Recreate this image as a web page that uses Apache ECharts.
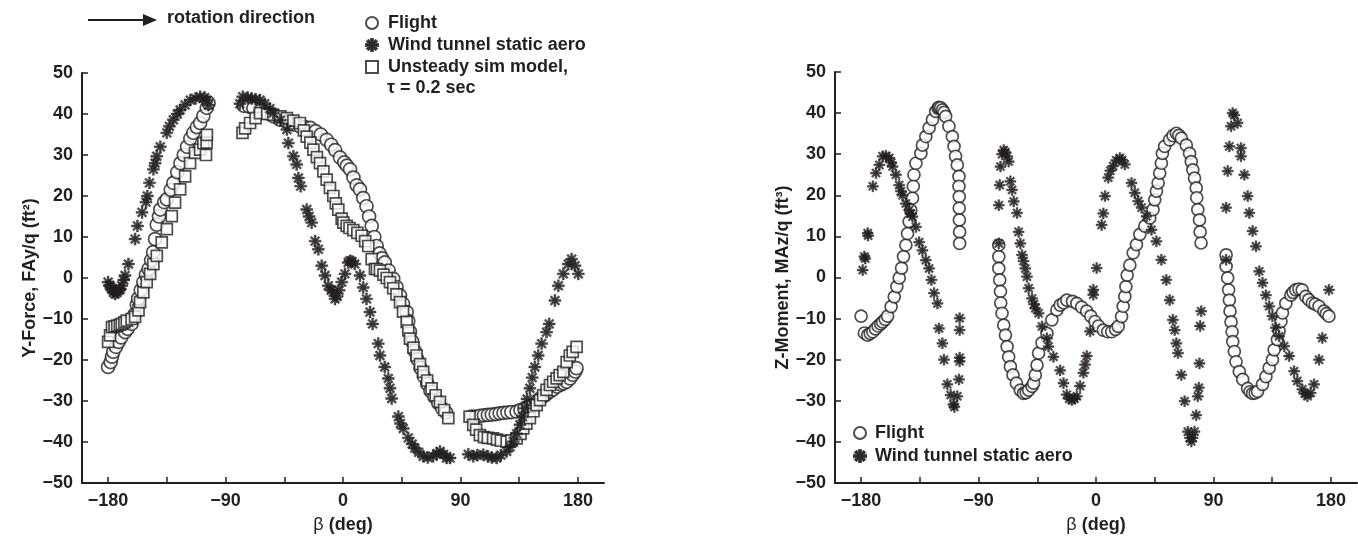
<!DOCTYPE html>
<html>
<head>
<meta charset="utf-8">
<script src="https://cdn.jsdelivr.net/npm/echarts@6/dist/echarts.min.js"></script>
<style>
html,body{margin:0;padding:0;background:#fff;}
#c{width:1358px;height:539px;}
</style>
</head>
<body>
<div id="c"></div>
<script>
// ---------- data (β in deg, value) ----------
const xTicks = [-180, -135, -90, -45, 0, 45, 90, 135, 180];
const xLabels = [-180, -90, 0, 90, 180];

const forceFlight = [
[-180,-21.7],[-178,-20.5],[-177,-19.2],[-176,-18],[-174,-16.8],[-172,-15.6],[-170,-14.5],[-167,-13.2],[-165,-12.4],[-162,-11.2],
[-160,-9],[-158,-6.5],[-157,-5],[-155,-3],[-153,-1],[-151,0.8],[-149,2.2],[-147,4.3],[-145.5,6.3],[-144,9.5],[-142.7,13],[-141,15],
[-140,16.7],[-137,18.5],[-135,19.2],[-132,21.5],[-130,23.2],[-127,25.8],[-124.6,28],[-122,30],[-119.5,32],[-117,34],[-114.7,35.4],
[-112,36.8],[-109.5,37.8],[-107,39.5],[-104.4,41.5],[-103,42.7],
[-76,42],[-72,41.8],[-68.7,41.4],[-63,40.8],[-58.4,40.2],[-53,39.4],[-48.3,38.6],[-43,38],[-38,37.4],[-33,37],[-29,36.8],[-25,36.6],
[-21,35.8],[-17,35],[-12.5,33.7],[-9,32.5],[-6,31.2],[-2.3,29.4],[1,28.2],[3,27.4],[5.4,26.5],[8,24.5],[10.5,22.6],[13,21.6],[15.5,19.5],
[18,17.5],[20,15],[22,12.7],[24,10],[25.8,7.8],[28,6],[30,4.8],[32,3.8],[35,1.8],[38.5,-0.2],[41,-2.2],[43.7,-4.3],[46,-6.3],[48.8,-8.3],
[50,-10.5],[51.3,-13.1],[53,-15.5],[55,-17.8],[57,-19.8],[59.5,-22],[62,-24],[64.5,-25.8],[67,-27.5],[70,-29],[73,-30.5],[76,-31.8],[79,-32.8],
[98.6,-33.8],[102,-33.8],[105,-33.6],[108,-33.5],[111,-33.4],[114,-33.3],[117,-33.2],[120,-33],[123,-32.9],[126,-32.8],[129,-32.7],
[133,-32.6],[136,-32.2],[139,-31.8],[142,-31.4],[145.5,-31],[148,-30.2],[151,-29.4],[154,-28.8],[156,-28.3],[158.6,-27.7],[161,-27.2],
[164,-26.5],[167,-26],[169,-25.7],[171.4,-25.3],[174,-24.5],[176,-23.6],[178,-22.8],[179,-22]
];

const forceWind = [
[-180,-1],[-179,-1.8],[-178,-2.2],[-177,-2.7],[-176,-3.5],[-174.6,-3.9],[-173,-3.5],[-171.5,-3],[-170.8,-2.7],[-169.5,-1.9],[-168,-0.5],
[-167,0.6],[-164.4,3.4],[-159.3,9.5],[-157.5,12.7],[-154,16],[-151,18.5],[-149.9,20],[-148.3,23.2],[-145.3,26.5],[-144,28],[-142.7,29.7],
[-140,32],[-135,35.4],[-133,37],[-130,38.6],[-127,40],[-124.8,41],[-121,42.2],[-117,43.4],[-113,43.8],[-109.5,44.2],[-106,44],[-104.4,43.4],[-103,42.2],
[-79,42.5],[-76.8,44.2],[-73,44],[-70,43.8],[-67,43.6],[-63.6,43.4],[-60,42.5],[-56,41.3],[-53.4,40.2],[-48,38.5],[-43,36.2],[-41.9,32.9],
[-38,29.7],[-35.5,27.7],[-34.2,24.4],[-32.4,22.4],[-27.8,16.7],[-26,15],[-24,13.5],[-21.4,9],[-18.9,7],[-16.3,3],[-13.8,0.6],[-11.3,-1.9],
[-9,-3],[-7.4,-3.5],[-6.1,-5.1],[-4.5,-4.5],[-3,-3],[-1,-1],[1.5,1],[4,3.8],[5.4,4.2],[7,4],[9,3.4],[13,0.6],[15.5,-2.3],[18,-5.1],
[20.7,-8.3],[22.7,-11.2],[27,-16],[28.3,-18.9],[32,-21.7],[34.7,-24.5],[36,-26.9],[37.3,-29.4],[42.4,-33.8],[44,-35.5],[46.2,-36.7],
[50,-39],[53,-40.5],[55,-41.5],[58,-42.5],[61.5,-43.5],[65,-43.8],[69,-43.5],[72,-42.8],[74.3,-42.3],[77,-43],[79.4,-43.9],[82,-43.9],
[96,-43],[99.8,-43.5],[103,-43.2],[107.5,-43.1],[111,-43.5],[114,-43.8],[117.7,-43.9],[121,-43.2],[125.4,-42.3],[128,-41.2],[130.5,-39.9],
[133,-38],[135.6,-35.8],[137.5,-33.8],[139.4,-31.8],[141,-29.5],[143.2,-26.9],[145,-24.3],[147,-21.7],[149.6,-18.9],[152.2,-16],[156,-13.2],
[158,-11.2],[162.4,-5.5],[165,-1.9],[168.8,1],[172.6,3.4],[175.2,4.6],[177.8,3],[180.3,1]
];

const forceUnsteady = [
[-180,-15.6],[-178.5,-14],[-177,-12],[-175,-11.8],[-173,-11.6],[-171,-11.4],[-169.5,-11.2],[-167.5,-10.8],[-165.7,-10.4],[-162,-10],
[-159.3,-9.5],[-156.7,-7.9],[-155.5,-5.9],[-153,-3.5],[-150.4,-1],[-147.8,1],[-145.3,3.4],[-142.7,5.4],[-138.9,8.7],[-135,11.9],
[-131.2,15.1],[-128.7,18.4],[-124.8,21.6],[-121,24.8],[-117.2,28],[-113.4,30.5],[-109.5,31.3],[-107,32.9],[-105,30],[-104.5,33],[-104.3,34.9],
[-77,35.4],[-75,36.5],[-71.2,37.8],[-67,39],[-63.6,40.2],[-58,40],[-53.4,39.8],[-48,39.4],[-43,39],[-38,38.4],[-33,37.8],[-30,36],
[-27.8,34.5],[-25,33],[-22.7,31.3],[-20,29.5],[-17.6,28],[-15,26],[-12.5,24],[-10,22],[-7.4,20],[-5.5,18.2],[-3.6,16.7],[-1,14.5],
[0.3,13.5],[2.8,12.7],[5,12.2],[7.9,11.7],[11,11],[14.3,10.3],[17,9],[19.4,7.8],[22,4.6],[24.5,2.2],[26,2.2],[28.3,1.8],[31,0.8],
[33.5,0],[36,-1],[38.5,-2.5],[41,-4],[43.7,-5.9],[46,-8.2],[48.8,-10.7],[50,-12.8],[51.3,-14.8],[54,-17],[56.4,-18.9],[59,-21],
[61.5,-22.9],[64.5,-25],[67.9,-26.9],[71,-28.6],[74.3,-30.2],[77.5,-32.2],[80.7,-34.2],
[97,-33.8],[99.8,-35.8],[102,-37],[104.9,-38.3],[108,-38.8],[111,-39],[115,-39.1],[118,-39.4],[121,-39.7],[125.4,-39.9],[129,-39.6],
[133,-39.1],[136,-38],[138.1,-36.7],[140.5,-35.5],[143.2,-34.2],[146,-32.5],[148.4,-31],[151,-29.8],[153.4,-28.6],[156,-27.3],
[158.6,-26.1],[161,-25.3],[163.7,-24.5],[166,-23.7],[168.8,-22.9],[171.4,-20.5],[173.8,-18.9],[176,-18],[179,-16.8]
];

const momentFlight = [
[-180,-9.4],[-177.5,-13.5],[-175,-14],[-173,-13.6],[-171,-13.2],[-169,-12.5],[-167,-11.8],[-165,-11.3],[-163.5,-10.8],[-161.5,-10.2],
[-159.7,-9.4],[-157,-7.1],[-154.6,-4.7],[-152.6,-2.2],[-150.8,-0.1],[-149,2.3],[-147.5,5.1],[-145.7,7.9],[-144.4,10.7],[-143.2,13.6],
[-141.9,16.4],[-140.6,19.3],[-140,22.2],[-139.5,25],[-138,27.8],[-134.2,30.2],[-133,32.2],[-130.4,34.3],[-127.9,36.4],[-125.3,38.4],
[-122.8,40.4],[-121,41.2],[-120.3,41.4],[-119,41.3],[-117.7,40.8],[-116.5,40.2],[-115.2,39.2],[-112.7,36.8],[-110.1,34.3],[-108.8,31.9],
[-107.6,29.5],[-106.3,27.4],[-105,24.6],[-105,22.2],[-104.8,19.7],[-104.8,16.9],[-104.7,14],[-104.5,11.1],[-104.5,8.3],
[-74.5,7.9],[-74.5,5.1],[-74.5,2.2],[-73.8,-0.6],[-73.2,-3.4],[-73,-6.2],[-72,-8.7],[-70.7,-11.6],[-69.4,-14],[-68.1,-16.8],[-66.9,-19.3],
[-65.6,-21.7],[-63.6,-23.7],[-61,-25.7],[-58,-27.4],[-55.5,-28.2],[-53.5,-28],[-51.6,-27.4],[-49,-26.5],[-47.8,-25.7],[-46.5,-23.7],
[-45.2,-21.3],[-44,-18.4],[-41.4,-15.9],[-37.6,-13.6],[-33.8,-10.3],[-30,-7.9],[-27.5,-6.7],[-24.9,-6.2],[-22.4,-5.5],[-18,-5.8],
[-14.7,-6.3],[-11,-7.2],[-7.1,-8.2],[-4,-9.4],[-0.8,-10.7],[2,-11.8],[5.6,-12.8],[9,-13.2],[12,-13.2],[15,-12.6],[17,-11.9],[19.6,-9.5],
[20.8,-7],[22.1,-4.6],[22.9,-2.2],[23.9,0.6],[25.9,3],[28.5,6],[31,8],[33.6,10.5],[37.4,12.5],[41.2,14.5],[43.7,16.5],[45,18.9],[46.3,21],
[47.6,23],[48.8,25.4],[50.1,27.8],[50.9,30.2],[52.6,31.9],[56.4,33.5],[59,34.5],[61.6,35.1],[63.5,34.6],[65.4,33.9],[69.2,32.2],[71.7,30.2],
[73,28.2],[74.2,26.2],[75.5,24.2],[76.8,21.8],[77.2,19.4],[78,16.5],[79.3,14],[79.8,11.1],[80.5,8.4],
[99.7,5.5],[99.7,2.7],[100.9,-0.1],[101.6,-3],[102.2,-5.5],[102.7,-8.2],[103.5,-10.8],[104.3,-13.2],[104.8,-15.6],[106,-18],[107.3,-20.5],
[109.8,-22.9],[112.4,-24.8],[116.2,-27],[118,-27.8],[120,-28.2],[122,-28.1],[123.8,-27.7],[127.6,-26],[130.2,-24.1],[132.7,-22],
[135.2,-20],[136.5,-17.6],[139,-15.1],[140.3,-13],[141.7,-10.7],[142.9,-8.6],[145.5,-6.3],[149.3,-4.3],[151,-3.6],[153,-3],[155.5,-2.8],
[158,-3],[160.7,-4.6],[163,-5.4],[165.8,-6.2],[168,-6.5],[170.9,-7],[174.7,-8.2],[176.5,-8.8],[178.5,-9.4]
];

const momentWind = [
[-178.8,1.8],[-177.5,5.1],[-176.8,4.6],[-175,10.8],[-174.6,10.2],[-171,22.2],[-168.6,25.4],[-166,27.4],[-163.5,29.5],[-161,29.6],
[-158.4,29.1],[-157,28],[-155.9,27],[-153.3,25],[-150.8,22.5],[-149.5,21],[-148.2,20],[-145.7,18],[-143.2,16.4],[-142,15.5],[-140.6,14.8],
[-138,12.3],[-135.5,8.6],[-133,6.6],[-130.4,4.2],[-127.9,2.2],[-126.1,-0.6],[-124.1,-3.8],[-121.5,-6.3],[-120.3,-12.4],[-117.7,-16],
[-116.5,-20],[-113.9,-26],[-111.4,-28.6],[-109.3,-30.9],[-108.5,-31.5],[-106.3,-28.9],[-105,-24.8],[-104.5,-20.4],[-104.5,-19.5],
[-104.5,-12.8],[-104.5,-9.9],
[-74.5,8.3],[-74.5,17.6],[-73.8,22.5],[-73.2,27],[-72,30],[-70.7,31],[-69.5,30.5],[-68.1,29.5],[-66.9,28.2],[-65.6,23.4],[-64.3,21.3],
[-63,18.5],[-60.5,15.7],[-59.3,11.1],[-58,8.3],[-56.7,5.5],[-55.5,4],[-54.2,2.2],[-52.9,0.2],[-51.6,-2.6],[-49,-5.1],[-47.5,-6.5],
[-46.5,-7.5],[-44,-8.7],[-41.4,-11.9],[-37.6,-14.8],[-36.4,-16.8],[-32.6,-19.3],[-27.5,-22.6],[-24.9,-25.7],[-22.4,-28.5],[-20.5,-29.5],
[-18.5,-29.8],[-16.5,-29.5],[-14.7,-28.9],[-12.2,-26.4],[-9.7,-23.2],[-8.4,-21.2],[-7.1,-19.1],[-4.6,-13.1],[-2.1,-4.2],[-2,-3],[0.5,2.3],
[4.3,12.8],[5.6,15.6],[6.9,19.8],[9.4,24.3],[11,26],[13.2,27.1],[15.5,28.5],[18.3,29.1],[20,28.6],[22.1,27.5],[27.2,23],[29.7,20.6],
[32.3,18.6],[34.9,17],[38.7,14.9],[42.5,11.6],[46.3,8.8],[50.1,4.3],[53.9,-0.6],[56.4,-5.5],[58.9,-10.3],[60.3,-12.8],[61.6,-16],
[62.8,-18.4],[65.4,-23.7],[67.9,-30.1],[70.4,-37.5],[72,-39],[73,-39.9],[74,-39],[75.5,-37.5],[76.8,-33.5],[78,-28.9],[78.8,-26.8],
[79.3,-20.9],[79.8,-11.8],[80.6,-8.2],
[99.7,4.3],[99.7,17],[100.9,25.9],[102.2,31.9],[103.5,36.8],[104.7,40],[106,39.5],[108.5,37.6],[111.1,31.5],[111.1,29.5],[113.7,25],
[116.2,19.8],[117.5,15.7],[120,11.3],[122.6,7.6],[125.1,1.5],[127.6,-1.3],[130.2,-4.3],[132.7,-7],[135.2,-9.4],[137.8,-12.2],[140.3,-14.3],
[144.2,-16.7],[148,-19.1],[151.8,-22.8],[154.3,-25.2],[158.1,-27.2],[160,-28.3],[162,-28.9],[164.5,-28.1],[167.1,-26],[170.9,-20],
[173.4,-14.7],[178.5,-3]
];

// ---------- styling ----------
const INK = '#231f20';
const FONT = '"Liberation Sans", Arial, Helvetica, sans-serif';
const STAR = 'path://M-0.16,-1L0.16,-1L0.16,1L-0.16,1Z M-1,-0.16L1,-0.16L1,0.16L-1,0.16Z M-0.594,-0.820L0.820,0.594L0.594,0.820L-0.820,-0.594Z M-0.820,0.594L0.594,-0.820L0.820,-0.594L-0.594,0.820Z';
const SQUARE = 'path://M0,0L10,0L10,10L0,10Z';
const minus = v => String(v).replace('-', '\u2212');

function xAxisCfg(gridIndex) {
  return {
    gridIndex, type: 'value', min: -200, max: 200,
    name: '{b|β} (deg)', nameLocation: 'middle', nameGap: 33,
    nameTextStyle: { fontFamily: FONT, fontSize: 18, fontWeight: 'bold', color: INK,
      rich: { b: { fontFamily: FONT, fontSize: 18, fontWeight: 'normal', color: INK } } },
    axisLine: { show: true, onZero: false, lineStyle: { color: INK, width: 2 } },
    axisTick: { show: true, inside: true, length: 6, lineStyle: { color: INK, width: 1.5 }, customValues: xTicks },
    axisLabel: { show: true, margin: 9, fontFamily: FONT, fontSize: 18, fontWeight: 'bold', color: INK,
      customValues: xLabels, formatter: minus },
    splitLine: { show: false }
  };
}
function yAxisCfg(gridIndex, name) {
  return {
    gridIndex, type: 'value', min: -50, max: 50, interval: 10,
    name, nameLocation: 'middle', nameGap: 40, nameRotate: 90,
    nameTextStyle: { fontFamily: FONT, fontSize: 18, fontWeight: 'bold', color: INK },
    axisLine: { show: true, onZero: false, lineStyle: { color: INK, width: 2 } },
    axisTick: { show: true, inside: true, length: 6, lineStyle: { color: INK, width: 1.5 } },
    axisLabel: { show: true, margin: 9, fontFamily: FONT, fontSize: 18, fontWeight: 'bold', color: INK, formatter: minus },
    splitLine: { show: false }
  };
}

const circleStyle = { color: '#ffffff', borderColor: INK, borderWidth: 1.7 };
const starStyle = { color: INK, borderColor: INK, borderWidth: 0.5 };
const squareStyle = { color: '#ffffff', borderColor: INK, borderWidth: 1.7 };

const option = {
  animation: false,
  backgroundColor: '#ffffff',
  grid: [
    { left: 82, top: 73, width: 522, height: 412 },
    { left: 835, top: 72, width: 522, height: 411 }
  ],
  xAxis: [xAxisCfg(0), xAxisCfg(1)],
  yAxis: [yAxisCfg(0, 'Y-Force, FAy/q (ft²)'), yAxisCfg(1, 'Z-Moment, MAz/q (ft³)')],
  legend: [
    {
      left: 360, top: 9, orient: 'vertical', itemGap: 4, itemWidth: 22, itemHeight: 12,
      textStyle: { fontFamily: FONT, fontSize: 18, fontWeight: 'bold', color: INK },
      data: [
        { name: 'Flight', icon: 'circle' },
        { name: 'Wind tunnel static aero', icon: STAR },
        { name: 'Unsteady sim model,', icon: SQUARE }
      ],
      selectedMode: false
    },
    {
      left: 848, top: 419, orient: 'vertical', itemGap: 5, itemWidth: 20, itemHeight: 12,
      textStyle: { fontFamily: FONT, fontSize: 18, fontWeight: 'bold', color: INK },
      data: [
        { name: 'Flight', icon: 'circle' },
        { name: 'Wind tunnel static aero', icon: STAR }
      ],
      selectedMode: false
    }
  ],
  graphic: [
    { type: 'line', shape: { x1: 88, y1: 20, x2: 146, y2: 20 }, style: { stroke: INK, lineWidth: 2 } },
    { type: 'polygon', shape: { points: [[143, 14], [157, 20], [143, 26]] }, style: { fill: INK } },
    { type: 'text', left: 167, top: 9, style: { text: 'rotation direction', font: 'bold 18px ' + FONT, fill: INK } },
    { type: 'text', left: 387, top: 79, style: { text: 'τ = 0.2 sec', font: 'bold 18px ' + FONT, fill: INK } }
  ],
  series: [
    { name: 'Flight', type: 'scatter', xAxisIndex: 0, yAxisIndex: 0, data: forceFlight,
      symbol: 'circle', symbolSize: 13, itemStyle: circleStyle, z: 2 },
    { name: 'Unsteady sim model,', type: 'scatter', xAxisIndex: 0, yAxisIndex: 0, data: forceUnsteady,
      symbol: 'rect', symbolSize: 11, itemStyle: squareStyle, z: 3 },
    { name: 'Wind tunnel static aero', type: 'scatter', xAxisIndex: 0, yAxisIndex: 0, data: forceWind,
      symbol: STAR, symbolSize: 12, itemStyle: starStyle, z: 4 },
    { name: 'Flight', type: 'scatter', xAxisIndex: 1, yAxisIndex: 1, data: momentFlight,
      symbol: 'circle', symbolSize: 12, itemStyle: circleStyle, z: 2 },
    { name: 'Wind tunnel static aero', type: 'scatter', xAxisIndex: 1, yAxisIndex: 1, data: momentWind,
      symbol: STAR, symbolSize: 11, itemStyle: starStyle, z: 4 }
  ]
};

const chart = echarts.init(document.getElementById('c'), null, { renderer: 'canvas' });
chart.setOption(option);
</script>
</body>
</html>
